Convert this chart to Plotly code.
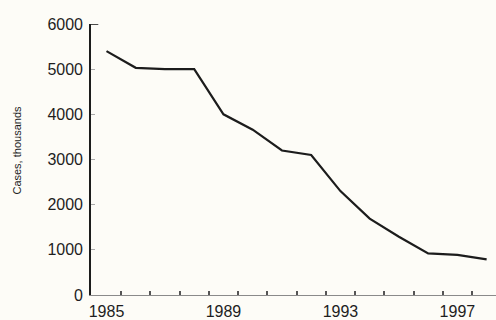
import plotly.graph_objects as go

years = [1985, 1986, 1987, 1988, 1989, 1990, 1991, 1992, 1993, 1994, 1995, 1996, 1997, 1998]
cases = [5400, 5030, 5000, 5000, 4000, 3660, 3200, 3100, 2300, 1690, 1290, 920, 890, 790]

x_tick_vals = [1985, 1989, 1993, 1997]
x_tick_text = ["1985", "1989", "1993", "1997"]
y_tick_vals = [0, 1000, 2000, 3000, 4000, 5000, 6000]
y_title = "Cases, thousands"

ink = "#1c1c1c"
paper = "#fdfcf7"

fig = go.Figure()
fig.add_trace(go.Scatter(
    x=years, y=cases, mode="lines",
    line=dict(color=ink, width=2.2),
    hoverinfo="skip", showlegend=False,
))

fig.update_layout(
    width=496, height=320,
    margin=dict(l=91, r=0, t=24, b=21),
    paper_bgcolor=paper, plot_bgcolor=paper,
    font=dict(family="Liberation Sans, Arial, sans-serif", color="#1e1e1e"),
    showlegend=False,
)

fig.update_xaxes(
    range=[1984.47, 1998.32],
    tickmode="array", tickvals=x_tick_vals, ticktext=x_tick_text,
    ticks="", showgrid=False, zeroline=False,
    showline=True, linecolor="#8a8a8a", linewidth=1,
    tickfont=dict(size=16, color="#1e1e1e"),
    ticklabelstandoff=2,
    minor=dict(tickmode="array", tickvals=[y + 0.5 for y in years[:-1]],
               ticks="inside", ticklen=4, tickcolor="#555555", tickwidth=1.5,
               showgrid=False),
)

fig.update_yaxes(
    range=[0, 6000],
    tickmode="array", tickvals=y_tick_vals,
    ticks="inside", ticklen=4, tickcolor="#aaaaaa", tickwidth=1,
    showgrid=False, zeroline=False,
    showline=True, linecolor=ink, linewidth=1.6,
    tickfont=dict(size=16, color="#1e1e1e"),
    ticklabelstandoff=3,
)

fig.add_shape(type="line", xref="paper", yref="y",
              x0=0, x1=0.018, y0=6000, y1=6000,
              line=dict(color=ink, width=1.6))

fig.add_annotation(
    text=y_title, xref="paper", yref="paper",
    x=(17 - 91) / 405, y=0.533, xanchor="center", yanchor="middle",
    textangle=-90, showarrow=False,
    font=dict(size=11, color="#1e1e1e"),
)

fig.write_html("out.html")
